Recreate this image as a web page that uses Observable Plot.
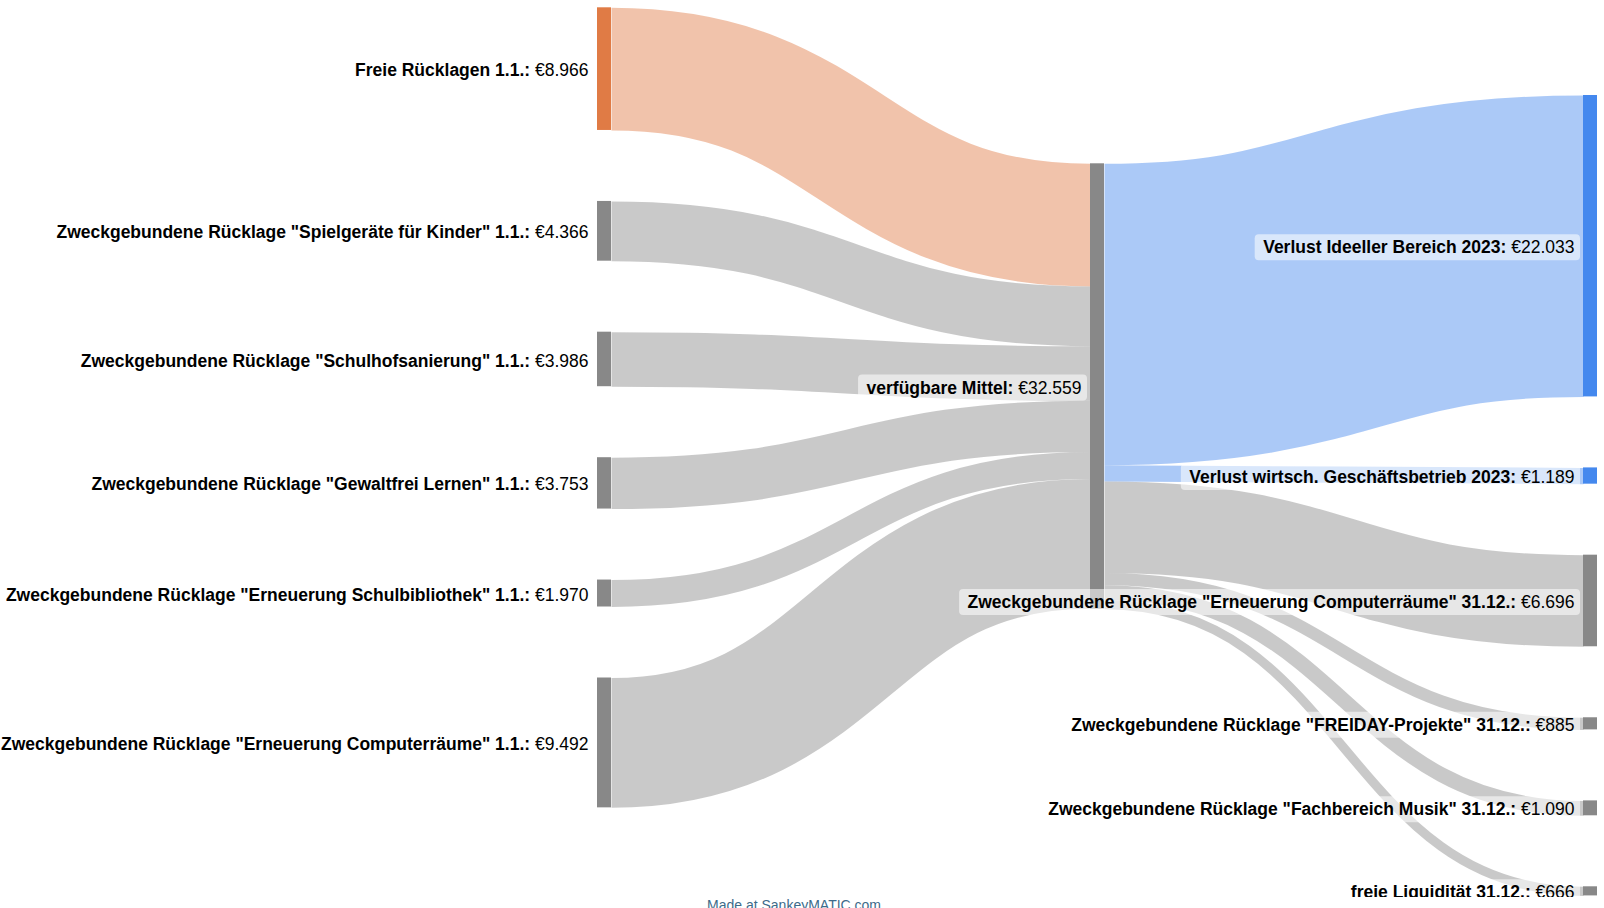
<!DOCTYPE html>
<html>
<head>
<meta charset="utf-8">
<script src="https://cdn.jsdelivr.net/npm/d3@7"></script>
<script src="https://cdn.jsdelivr.net/npm/@observablehq/plot@0.6"></script>
<style>
  html, body { margin: 0; padding: 0; background: #fff; overflow: hidden; }
  #chart svg { display: block; }
  #footer {
    position: absolute; left: 707px; top: 898px;
    font: 14px "Liberation Sans", Arial, sans-serif; color: #3d6b8a;
    line-height: 14px; white-space: nowrap;
  }
</style>
</head>
<body>
<div id="chart"></div>
<div id="footer">Made at SankeyMATIC.com</div>
<script>
// ---------- data ----------
const sourceNames = [
  "Freie Rücklagen 1.1.",
  'Zweckgebundene Rücklage "Spielgeräte für Kinder" 1.1.',
  'Zweckgebundene Rücklage "Schulhofsanierung" 1.1.',
  'Zweckgebundene Rücklage "Gewaltfrei Lernen" 1.1.',
  'Zweckgebundene Rücklage "Erneuerung Schulbibliothek" 1.1.',
  'Zweckgebundene Rücklage "Erneuerung Computerräume" 1.1.'
];
const sourceValues = [8966, 4366, 3986, 3753, 1970, 9492];

const hubName = "verfügbare Mittel";

const targetNames = [
  "Verlust Ideeller Bereich 2023",
  "Verlust wirtsch. Geschäftsbetrieb 2023",
  'Zweckgebundene Rücklage "Erneuerung Computerräume" 31.12.',
  'Zweckgebundene Rücklage "FREIDAY-Projekte" 31.12.',
  'Zweckgebundene Rücklage "Fachbereich Musik" 31.12.',
  "freie Liquidität 31.12."
];
const targetValues = [22033, 1189, 6696, 885, 1090, 666];

// ---------- styles ----------
const GRAY = "#888888";
const nodeColors = {
  "Freie Rücklagen 1.1.": "#e07b45",
  "Verlust Ideeller Bereich 2023": "#4488ee",
  "Verlust wirtsch. Geschäftsbetrieb 2023": "#4488ee"
};
const colorOf = n => nodeColors[n] || GRAY;

// ---------- layout parameters (pixels) ----------
const W = 1604, H = 897;
const k = 0.01368;            // px per euro
const colPx = [597, 1090, 1583];
const nodeW = 14;
const gapPx = 71;
const colTopPx = [7.3, 163.3, 95];
const fontSize = 17.5;
const labelShift = 1.5;       // px, labels sit slightly below node centre
const toX = px => (px - colPx[0]) / ((colPx[2] - colPx[0]) / 2);
const toY = px => px / k;

const fmt = d3.formatLocale({decimal: ",", thousands: ".", grouping: [3], currency: ["€", ""]}).format(",");

// ---------- nodes ----------
const hubValue = Math.max(d3.sum(sourceValues), d3.sum(targetValues));
function column(names, values, col) {
  let cursor = toY(colTopPx[col]);
  return names.map((name, i) => {
    const n = {name, value: values[i], col, y0: cursor, y1: cursor + values[i], color: colorOf(name)};
    cursor = n.y1 + toY(gapPx);
    return n;
  });
}
const leftNodes = column(sourceNames, sourceValues, 0);
const hubNode = column([hubName], [hubValue], 1)[0];
const rightNodes = column(targetNames, targetValues, 2);
const nodes = [...leftNodes, hubNode, ...rightNodes];
nodes.forEach(n => { n.x1 = toX(colPx[n.col]); n.x2 = toX(colPx[n.col] + nodeW); });

// ---------- links ----------
const links = [];
let inCursor = hubNode.y0;
leftNodes.forEach(s => {
  links.push({value: s.value, x1: s.x2, x2: hubNode.x1,
    y1: s.y0 + s.value / 2, y2: inCursor + s.value / 2,
    color: s.color});
  inCursor += s.value;
});
let outCursor = hubNode.y0;
rightNodes.forEach(t => {
  links.push({value: t.value, x1: hubNode.x2, x2: t.x1,
    y1: outCursor + t.value / 2, y2: t.y0 + t.value / 2,
    color: t.color});
  outCursor += t.value;
});

// ---------- labels ----------
const ctx = document.createElement("canvas").getContext("2d");
const fam = '"Liberation Sans", Arial, sans-serif';
function tw(s, bold) { ctx.font = `${bold ? "bold " : ""}${fontSize}px ${fam}`; return ctx.measureText(s).width; }
const labels = nodes.map(n => {
  const nameText = n.name + ":";
  const valText = "€" + fmt(n.value);
  const endPx = colPx[n.col] - 9;
  const valW = tw(valText, false), spW = tw(" ", false), nameW = tw(nameText, true);
  const nameEndPx = endPx - valW - spW;
  const startPx = nameEndPx - nameW;
  const cy = (n.y0 + n.y1) / 2 + toY(labelShift);
  return {
    nameText, valText, cy,
    valX: toX(endPx), nameX: toX(nameEndPx),
    bx1: toX(startPx - 8), bx2: toX(endPx + 6),
    by1: cy - toY(13), by2: cy + toY(13)
  };
});

// ---------- plot ----------
const chart = Plot.plot({
  width: W, height: H,
  margin: 0,
  x: {domain: [0, 2], range: [colPx[0], colPx[2]], axis: null},
  y: {domain: [0, H / k], range: [0, H], axis: null},
  color: {type: "identity"},
  style: {fontFamily: fam, background: "#fff", overflow: "visible"},
  marks: [
    Plot.link(links, {x1: "x1", y1: "y1", x2: "x2", y2: "y2", stroke: "color",
      strokeWidth: d => d.value * k, strokeOpacity: 0.45, curve: "bump-x"}),
    Plot.rect(nodes, {x1: "x1", x2: "x2", y1: "y0", y2: "y1", fill: "color"}),
    Plot.rect(labels, {x1: "bx1", x2: "bx2", y1: "by1", y2: "by2", fill: "#fff", fillOpacity: 0.55, rx: 4}),
    Plot.text(labels, {x: "nameX", y: "cy", text: "nameText", textAnchor: "end",
      fontWeight: "bold", fontSize, fill: "#000"}),
    Plot.text(labels, {x: "valX", y: "cy", text: "valText", textAnchor: "end",
      fontSize, fill: "#000"})
  ]
});
document.getElementById("chart").appendChild(chart);
</script>
</body>
</html>
